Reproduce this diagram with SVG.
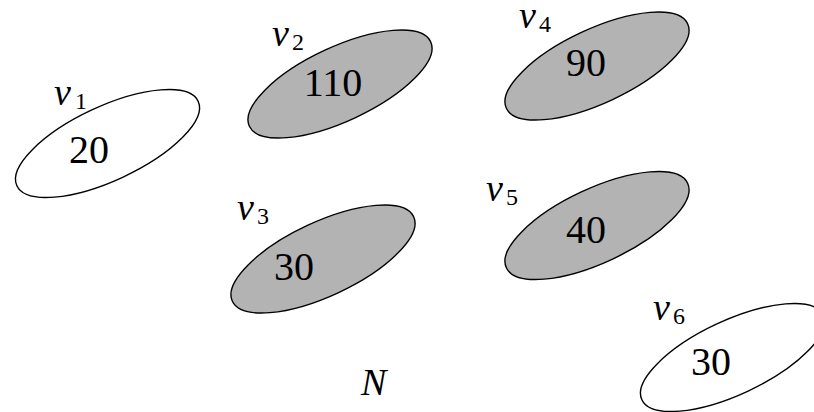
<svg xmlns="http://www.w3.org/2000/svg" width="814" height="412" viewBox="0 0 814 412">
<rect width="814" height="412" fill="#fff"/>
<g id="v1">
<ellipse cx="107.5" cy="143.5" rx="100" ry="37" transform="rotate(-25 107.5 143.5)" fill="#fff" stroke="#000" stroke-width="1.4"/>
<text x="54" y="105" font-family="Liberation Serif" font-style="italic" font-size="38">v</text><text x="75" y="109" font-family="Liberation Serif" font-size="24">1</text>
<text x="89" y="163" font-family="Liberation Serif" font-size="40" text-anchor="middle">20</text>
</g>
<g id="v2">
<ellipse cx="340" cy="84" rx="100" ry="37" transform="rotate(-25 340 84)" fill="#b3b3b3" stroke="#000" stroke-width="1.4"/>
<text x="272" y="46" font-family="Liberation Serif" font-style="italic" font-size="38">v</text><text x="292" y="50" font-family="Liberation Serif" font-size="24">2</text>
<text x="333" y="96" font-family="Liberation Serif" font-size="40" text-anchor="middle">110</text>
</g>
<g id="v3">
<ellipse cx="323" cy="259" rx="100" ry="37" transform="rotate(-25 323 259)" fill="#b3b3b3" stroke="#000" stroke-width="1.4"/>
<text x="237" y="220" font-family="Liberation Serif" font-style="italic" font-size="38">v</text><text x="257" y="224" font-family="Liberation Serif" font-size="24">3</text>
<text x="294" y="280" font-family="Liberation Serif" font-size="40" text-anchor="middle">30</text>
</g>
<g id="v4">
<ellipse cx="597" cy="66" rx="100" ry="37" transform="rotate(-25 597 66)" fill="#b3b3b3" stroke="#000" stroke-width="1.4"/>
<text x="519" y="28" font-family="Liberation Serif" font-style="italic" font-size="38">v</text><text x="539" y="32" font-family="Liberation Serif" font-size="24">4</text>
<text x="586" y="76" font-family="Liberation Serif" font-size="40" text-anchor="middle">90</text>
</g>
<g id="v5">
<ellipse cx="597" cy="225.5" rx="100" ry="37" transform="rotate(-25 597 225.5)" fill="#b3b3b3" stroke="#000" stroke-width="1.4"/>
<text x="486" y="201" font-family="Liberation Serif" font-style="italic" font-size="38">v</text><text x="506" y="205" font-family="Liberation Serif" font-size="24">5</text>
<text x="586" y="243" font-family="Liberation Serif" font-size="40" text-anchor="middle">40</text>
</g>
<g id="v6">
<ellipse cx="732.5" cy="357.5" rx="100" ry="37" transform="rotate(-25 732.5 357.5)" fill="#fff" stroke="#000" stroke-width="1.4"/>
<text x="653" y="320" font-family="Liberation Serif" font-style="italic" font-size="38">v</text><text x="673" y="324" font-family="Liberation Serif" font-size="24">6</text>
<text x="711" y="375" font-family="Liberation Serif" font-size="40" text-anchor="middle">30</text>
</g>
<g id="connectors"></g>
<text x="361" y="395" font-family="Liberation Serif" font-style="italic" font-size="38">N</text>
</svg>
